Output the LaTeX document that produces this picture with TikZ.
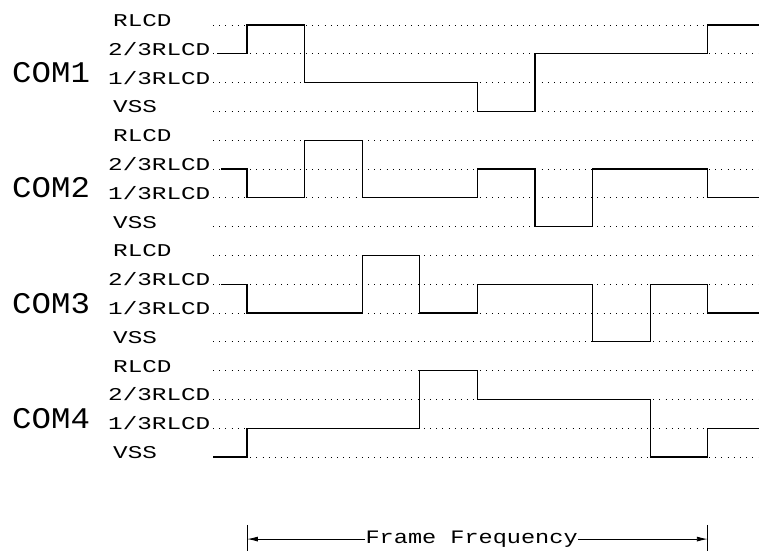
\documentclass[tikz,border=0pt]{standalone}
\usepackage{fontspec}
\usepackage{tikz}
\usetikzlibrary{arrows.meta}
\newfontfamily\voltfont{Liberation Mono}[FakeStretch=1.35]
\newfontfamily\comfont{Liberation Mono}[FakeStretch=1.08]
\newfontfamily\freqfont{Liberation Mono}[FakeStretch=1.24]
\newcommand{\level}[1]{\draw[gridline] ( -0.59 , #1 ) -- ( 8.889 , #1 );}
\newcommand{\lablvolt}[4]{\node[volt] (#1) at ( #2 , #3 ) {#4};}
\newcommand{\lablcom}[3]{\node[com] (#1) at ( -4.08 , #2 ) {#3};}
\tikzset{
  gridline/.style={line width=0.9pt, dash pattern=on 0.9pt off 5.3pt},
  wave/.style={line width=1.1pt},
  volt/.style={anchor=base west, inner sep=0pt, font=\voltfont\fontsize{18}{20}\selectfont},
  com/.style={anchor=base west, inner sep=0pt, font=\comfont\fontsize{30}{32}\selectfont},
  freq/.style={inner sep=0.5pt, font=\freqfont\fontsize{19}{21}\selectfont},
  dimarrow/.style={line width=0.9pt, -{Latex[length=11pt,width=5pt]}}
}

\begin{document}
\begin{tikzpicture}[x=57.6pt,y=-28.8pt]
\useasboundingbox (-4.2882,-0.8681) rectangle (8.8889,18.2639);
% dotted voltage levels
\level{0} \level{1} \level{2} \level{3}
\level{4} \level{5} \level{6} \level{7}
\level{8} \level{9} \level{10} \level{11}
\level{12} \level{13} \level{14} \level{15}
% COM1 labels
\lablcom{com1}{2}{COM1}
\lablvolt{rlcd1}{-2.326}{0.05}{RLCD}
\lablvolt{twoa}{-2.413}{1.05}{2/3RLCD}
\lablvolt{onea}{-2.413}{2.05}{1/3RLCD}
\lablvolt{vssa}{-2.326}{3.05}{VSS}
% COM2 labels
\lablcom{com2}{6}{COM2}
\lablvolt{rlcd2}{-2.326}{4.05}{RLCD}
\lablvolt{twob}{-2.413}{5.05}{2/3RLCD}
\lablvolt{oneb}{-2.413}{6.05}{1/3RLCD}
\lablvolt{vssb}{-2.326}{7.05}{VSS}
% COM3 labels
\lablcom{com3}{10}{COM3}
\lablvolt{rlcd3}{-2.326}{8.05}{RLCD}
\lablvolt{twoc}{-2.413}{9.05}{2/3RLCD}
\lablvolt{onec}{-2.413}{10.05}{1/3RLCD}
\lablvolt{vssc}{-2.326}{11.05}{VSS}
% COM4 labels
\lablcom{com4}{14}{COM4}
\lablvolt{rlcd4}{-2.326}{12.05}{RLCD}
\lablvolt{twod}{-2.413}{13.05}{2/3RLCD}
\lablvolt{oned}{-2.413}{14.05}{1/3RLCD}
\lablvolt{vssd}{-2.326}{15.05}{VSS}
% waveforms
\draw[wave] (-0.52,1) -| (0,0) -| (1,2) -| (4,3) -| (5,1) -| (8,0) -- (8.889,0);
\draw[wave] (-0.45,5) -| (0,6) -| (1,4) -| (2,6) -| (4,5) -| (5,7) -| (6,5) -| (8,6) -- (8.889,6);
\draw[wave] (-0.45,9) -| (0,10) -| (2,8) -| (3,10) -| (4,9) -| (6,11) -| (7,9) -| (8,10) -- (8.889,10);
\draw[wave] (-0.59,15) -| (0,14) -| (3,12) -| (4,13) -| (7,15) -| (8,14) -- (8.889,14);
% frame frequency
\coordinate (lt) at (0,17.85);
\coordinate (rt) at (8,17.85);
\draw[line width=0.9pt] (0,17.36) -- (0,18.3);
\draw[line width=0.9pt] (8,17.36) -- (8,18.3);
\node[freq] (ff) at (3.9,17.85) {Frame Frequency};
\draw[dimarrow] (ff.west) -- (lt);
\draw[dimarrow] (ff.east) -- (rt);
\end{tikzpicture}
\end{document}
